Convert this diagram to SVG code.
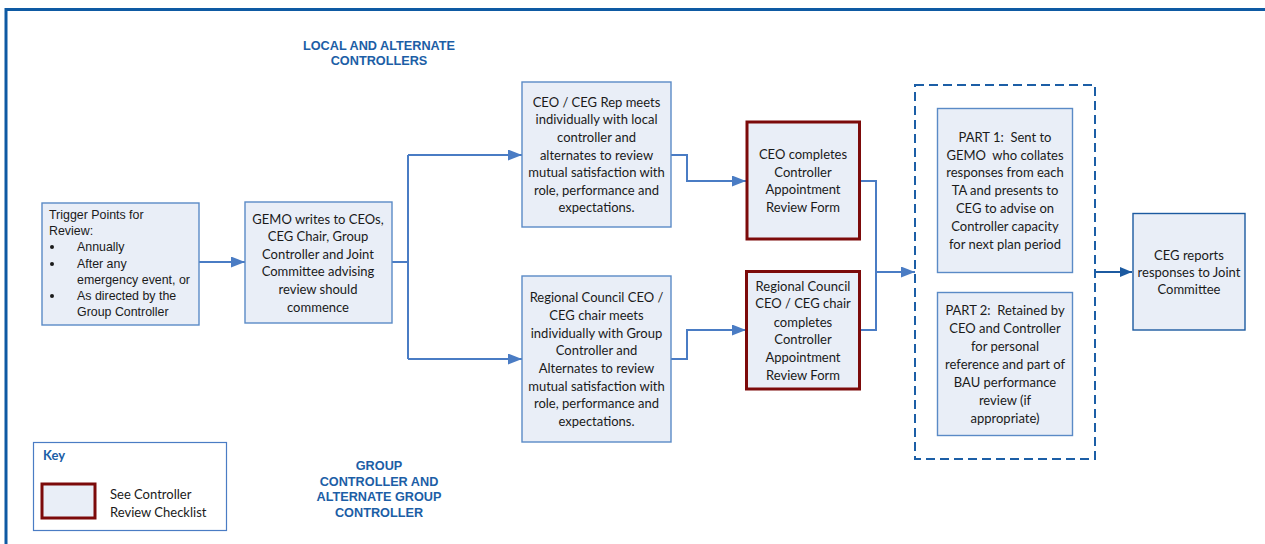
<svg xmlns="http://www.w3.org/2000/svg" width="1265" height="544" viewBox="0 0 1265 544">
  <defs>
    <marker id="arr" markerWidth="14" markerHeight="11" refX="14" refY="5.5" orient="auto" markerUnits="userSpaceOnUse">
      <path d="M0,0 L14,5.5 L0,11 Z" fill="#4a7cc4"/>
    </marker>
    <marker id="arrDark" markerWidth="12" markerHeight="10" refX="12" refY="5" orient="auto" markerUnits="userSpaceOnUse">
      <path d="M0,0 L12,5 L0,10 Z" fill="#1c5aa0"/>
    </marker>
    <style>
      .box { fill: #e9eef7; stroke: #5a8ac6; stroke-width: 1.4; }
      .review { fill: #e9eef7; stroke: #7c0a0a; stroke-width: 3; }
      .txt { font-family: Lato, "Open Sans", sans-serif; font-size: 13px; fill: #1a1a1a; text-anchor: middle; dominant-baseline: central; white-space: pre; }
      .atxt { font-family: "Liberation Sans", Arial, sans-serif; font-size: 12.4px; fill: #1a1a1a; dominant-baseline: central; }
      .head { font-family: "Liberation Sans", Arial, sans-serif; font-size: 12.7px; font-weight: bold; fill: #1c5ea6; text-anchor: middle; dominant-baseline: central; }
      .conn { fill: none; stroke: #4a7cc4; stroke-width: 2; }
    </style>
  </defs>

  <rect width="1265" height="544" fill="#ffffff"/>
  <!-- outer frame -->
  <path d="M6,560 L6,9.5 L1280,9.5" fill="none" stroke="#0e5aa3" stroke-width="3"/>

  <!-- section headings -->
  <g id="heading-local">
    <text class="head" x="379" y="46">LOCAL AND ALTERNATE</text>
    <text class="head" x="379" y="61">CONTROLLERS</text>
  </g>
  <g id="heading-group">
    <text class="head" x="379" y="466">GROUP</text>
    <text class="head" x="379" y="481.7">CONTROLLER AND</text>
    <text class="head" x="379" y="497.3">ALTERNATE GROUP</text>
    <text class="head" x="379" y="512.7">CONTROLLER</text>
  </g>

  <!-- connectors -->
  <g id="connectors">
    <path class="conn" d="M199,262 L245,262" marker-end="url(#arr)"/>
    <path class="conn" d="M392,262 L408,262"/>
    <path class="conn" d="M408,155 L408,359"/>
    <path class="conn" d="M408,155 L522,155" marker-end="url(#arr)"/>
    <path class="conn" d="M408,359 L522,359" marker-end="url(#arr)"/>
    <path class="conn" d="M671,155 L687,155 L687,181 L746,181" marker-end="url(#arr)"/>
    <path class="conn" d="M671,359 L687,359 L687,330 L746,330" marker-end="url(#arr)"/>
    <path class="conn" d="M860,181 L876,181 L876,330 L860,330"/>
    <path class="conn" d="M876,272 L915,272" marker-end="url(#arr)"/>
    <path d="M1095,272 L1132,272" fill="none" stroke="#1c5aa0" stroke-width="2" marker-end="url(#arrDark)"/>
  </g>

  <g id="trigger">
    <rect class="box" x="42" y="203" width="157" height="122"/>
    <text class="atxt" x="49" y="215">Trigger Points for</text>
    <text class="atxt" x="49" y="231">Review:</text>
    <circle cx="52" cy="247" r="2" fill="#1a1a1a"/>
    <text class="atxt" x="77" y="247">Annually</text>
    <circle cx="52" cy="264" r="2" fill="#1a1a1a"/>
    <text class="atxt" x="77" y="264">After any</text>
    <text class="atxt" x="77" y="280">emergency event, or</text>
    <circle cx="52" cy="296" r="2" fill="#1a1a1a"/>
    <text class="atxt" x="77" y="296">As directed by the</text>
    <text class="atxt" x="77" y="312">Group Controller</text>
  </g>

  <g id="gemo">
    <rect class="box" x="245" y="202" width="147" height="121"/>
    <text class="txt" x="318" y="218.5">GEMO writes to CEOs,</text>
    <text class="txt" x="318" y="236">CEG Chair, Group</text>
    <text class="txt" x="318" y="253.5">Controller and Joint</text>
    <text class="txt" x="318" y="271">Committee advising</text>
    <text class="txt" x="318" y="289">review should</text>
    <text class="txt" x="318" y="306.5">commence</text>
  </g>

  <g id="local-meeting">
    <rect class="box" x="522" y="82" width="149" height="145"/>
    <text class="txt" x="596.5" y="101.7">CEO / CEG Rep meets</text>
    <text class="txt" x="596.5" y="119.2">individually with local</text>
    <text class="txt" x="596.5" y="136.7">controller and</text>
    <text class="txt" x="596.5" y="154.5">alternates to review</text>
    <text class="txt" x="596.5" y="172">mutual satisfaction with</text>
    <text class="txt" x="596.5" y="189.7">role, performance and</text>
    <text class="txt" x="596.5" y="207.3">expectations.</text>
  </g>

  <g id="group-meeting">
    <rect class="box" x="522" y="276" width="149" height="166"/>
    <text class="txt" x="596.5" y="297.3">Regional Council CEO /</text>
    <text class="txt" x="596.5" y="314.8">CEG chair meets</text>
    <text class="txt" x="596.5" y="332.5">individually with Group</text>
    <text class="txt" x="596.5" y="350.2">Controller and</text>
    <text class="txt" x="596.5" y="368">Alternates to review</text>
    <text class="txt" x="596.5" y="385.5">mutual satisfaction with</text>
    <text class="txt" x="596.5" y="403.2">role, performance and</text>
    <text class="txt" x="596.5" y="421">expectations.</text>
  </g>

  <g id="ceo-form">
    <rect class="review" x="747" y="122" width="112.5" height="117"/>
    <text class="txt" x="803" y="154.3">CEO completes</text>
    <text class="txt" x="803" y="171.8">Controller</text>
    <text class="txt" x="803" y="189.2">Appointment</text>
    <text class="txt" x="803" y="206.8">Review Form</text>
  </g>

  <g id="regional-form">
    <rect class="review" x="746.5" y="271.5" width="113" height="117.5"/>
    <text class="txt" x="803" y="285.7">Regional Council</text>
    <text class="txt" x="803" y="303.3">CEO / CEG chair</text>
    <text class="txt" x="803" y="321.5">completes</text>
    <text class="txt" x="803" y="339.3">Controller</text>
    <text class="txt" x="803" y="357">Appointment</text>
    <text class="txt" x="803" y="374.5">Review Form</text>
  </g>

  <g id="form-parts">
    <rect x="915" y="85" width="180" height="374" fill="none" stroke="#1c5ea6" stroke-width="2" stroke-dasharray="9,5"/>
  </g>

  <g id="part1">
    <rect class="box" x="937.5" y="108.5" width="135" height="164"/>
    <text class="txt" x="1005" y="136.7" xml:space="preserve">PART 1:  Sent to</text>
    <text class="txt" x="1005" y="154.5" xml:space="preserve">GEMO  who collates</text>
    <text class="txt" x="1005" y="172.3">responses from each</text>
    <text class="txt" x="1005" y="190.2">TA and presents to</text>
    <text class="txt" x="1005" y="207.7">CEG to advise on</text>
    <text class="txt" x="1005" y="225.7">Controller capacity</text>
    <text class="txt" x="1005" y="243.5">for next plan period</text>
  </g>

  <g id="part2">
    <rect class="box" x="937.5" y="292.5" width="135" height="143"/>
    <text class="txt" x="1005" y="310" xml:space="preserve">PART 2:  Retained by</text>
    <text class="txt" x="1005" y="328">CEO and Controller</text>
    <text class="txt" x="1005" y="346">for personal</text>
    <text class="txt" x="1005" y="364.2">reference and part of</text>
    <text class="txt" x="1005" y="382.2">BAU performance</text>
    <text class="txt" x="1005" y="399.5">review (if</text>
    <text class="txt" x="1005" y="417.5">appropriate)</text>
  </g>

  <g id="ceg-report">
    <rect x="1133" y="213.5" width="112" height="116.5" fill="#e9eef7" stroke="#1c5aa0" stroke-width="1.4"/>
    <text class="txt" x="1189" y="254.5">CEG reports</text>
    <text class="txt" x="1189" y="271.8">responses to Joint</text>
    <text class="txt" x="1189" y="289.3">Committee</text>
  </g>

  <g id="key">
    <rect x="33.5" y="442.5" width="193" height="88" fill="#ffffff" stroke="#4a7cc4" stroke-width="1.2"/>
    <text x="43" y="454.5" font-family="Lato, 'Open Sans', sans-serif" font-size="13" font-weight="bold" fill="#1c5ea6" dominant-baseline="central">Key</text>
    <rect class="review" x="42" y="484" width="53" height="34"/>
    <text class="txt" x="110" y="494.3" style="text-anchor:start">See Controller</text>
    <text class="txt" x="110" y="511.7" style="text-anchor:start">Review Checklist</text>
  </g>
</svg>
